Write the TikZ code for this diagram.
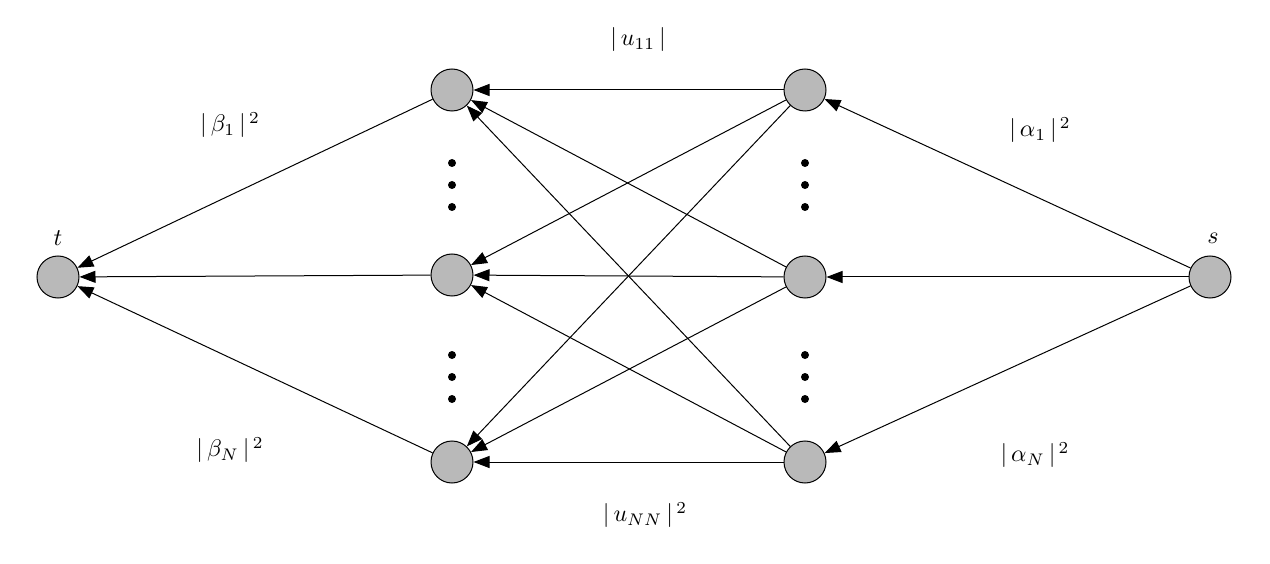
\documentclass[tikz,border=0pt]{standalone}
\usetikzlibrary{arrows.meta}
\begin{document}
\begin{tikzpicture}[x=1pt,y=-1pt,
  v/.style={circle,draw=black,fill=gray!55,line width=1pt,minimum size=42pt,inner sep=0pt},
  e/.style={-{Triangle[length=16pt,width=12pt]},line width=1pt,shorten >=0pt},
  lab/.style={scale=2.4,transform shape=false},
  dot/.style={circle,fill=black,inner sep=0pt,minimum size=8pt}]
\useasboundingbox (0,0) rectangle (1270,564);
\node[v] (t) at (58,277) {};
\node[v] (l1) at (452,90) {};
\node[v] (l2) at (452,275) {};
\node[v] (l3) at (452,462) {};
\node[v] (r1) at (805,90) {};
\node[v] (r2) at (805,277) {};
\node[v] (r3) at (805,462) {};
\node[v] (s) at (1210,277) {};
\foreach \r in {r1,r2,r3}{\foreach \l in {l1,l2,l3}{\draw[e] (\r) -- (\l);}}
\foreach \l in {l1,l2,l3}{\draw[e] (\l) -- (t);}
\foreach \r in {r1,r2,r3}{\draw[e] (s) -- (\r);}
\foreach \x in {452,805}{\foreach \y in {163,185,207,355,377,399}{\node[dot] (d\x\y) at (\x,\y) {};}}
\node[lab] (tl) at (58,238) {$t$};
\node[lab] (sl) at (1213,238) {$s$};
\node[lab] (u11) at (638,40) {$|\,u_{11}\,|$};
\node[lab] (unn) at (645,515) {$|\,u_{NN}\,|^{\,2}$};
\node[lab] (b1) at (230,125) {$|\,\beta_1\,|^{\,2}$};
\node[lab] (bn) at (230,450) {$|\,\beta_N\,|^{\,2}$};
\node[lab] (a1) at (1040,130) {$|\,\alpha_1\,|^{\,2}$};
\node[lab] (an) at (1035,455) {$|\,\alpha_N\,|^{\,2}$};
\end{tikzpicture}
\end{document}
